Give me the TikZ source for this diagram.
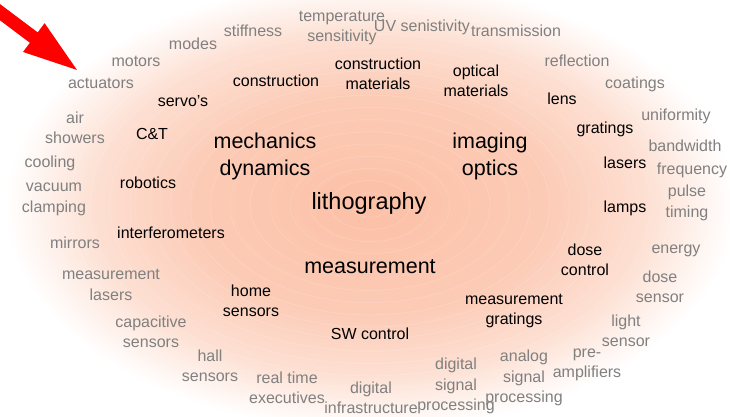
\documentclass[tikz,border=0pt]{standalone}
\usepackage{fontspec}
\setmainfont{Liberation Sans}
\definecolor{salmon}{RGB}{252,192,166}
\definecolor{salmonmid}{RGB}{252,203,182}
\definecolor{salmonout}{RGB}{253,224,211}
\definecolor{greytext}{RGB}{128,128,128}
\definecolor{arrowred}{RGB}{255,0,0}
\pgfdeclareradialshading{glow}{\pgfpoint{0bp}{0bp}}{color(0bp)=(salmon); color(12bp)=(salmonmid); color(19bp)=(salmonout); color(25bp)=(white); color(50bp)=(white)}
\begin{document}
\begin{tikzpicture}[x=1pt,y=-1pt,
  grey/.style={text=greytext,align=center,inner sep=0pt,font=\fontsize{16}{20.5}\selectfont},
  topic/.style={text=black,align=center,inner sep=0pt,font=\fontsize{16}{20.5}\selectfont},
  area/.style={text=black,align=center,inner sep=0pt,font=\fontsize{21.5}{27}\selectfont},
  core/.style={text=black,inner sep=0pt,font=\fontsize{23.5}{28}\selectfont}]
\clip (0,0) rectangle (730,417);
\fill[white] (0,0) rectangle (730,417);
\shade[shading=glow] (370,205) ellipse (365 and 225);
\foreach \k in {1,...,17}{
  \draw[white,opacity=0.2,line width=0.5pt] (370,205) ellipse ({\k*20} and {\k*12.2});
}
% arrow
\fill[arrowred] (-10.1,12.8) -- (29.9,42.8) -- (23,52) -- (77,70) -- (44.6,23.2) -- (37.7,32.4) -- (-2.3,2.4) -- cycle;
% core
\node[core] (litho) at (369,203) {lithography};
% areas
\node[area] (mech) at (265,156) {mechanics\\dynamics};
\node[area] (imag) at (490,156) {imaging\\optics};
\node[area] (meas) at (370,267) {measurement};
% black topics
\node[topic] (servo) at (183,101) {servo's};
\node[topic] (ct) at (152,134) {C\&T};
\node[topic] (constr) at (276,81) {construction};
\node[topic] (constrmat) at (378,74) {construction\\materials};
\node[topic] (optmat) at (476,81) {optical\\materials};
\node[topic] (lens) at (562,99) {lens};
\node[topic] (grat) at (605,129) {gratings};
\node[topic] (lasers) at (625,163) {lasers};
\node[topic] (lamps) at (625,208) {lamps};
\node[topic] (dose) at (585,260) {dose\\control};
\node[topic] (measgrat) at (514,311) {measurement\\gratings};
\node[topic] (sw) at (370,334) {SW control};
\node[topic] (home) at (251,301) {home\\sensors};
\node[topic] (interf) at (171,233) {interferometers};
\node[topic] (robot) at (148,183) {robotics};
% grey items
\node[grey] (temp) at (342,28) {temperature\\sensitivity};
\node[grey] (uv) at (422,27) {UV senistivity};
\node[grey] (trans) at (516,31) {transmission};
\node[grey] (stiff) at (253,31) {stiffness};
\node[grey] (modes) at (193,44) {modes};
\node[grey] (motors) at (136,61) {motors};
\node[grey] (act) at (101,83) {actuators};
\node[grey] (refl) at (577,61) {reflection};
\node[grey] (coat) at (635,84) {coatings};
\node[grey] (unif) at (676,116) {uniformity};
\node[grey] (band) at (685,146) {bandwidth};
\node[grey] (freq) at (692,170) {frequency};
\node[grey] (pulse) at (687,203) {pulse\\timing};
\node[grey] (energy) at (676,251) {energy};
\node[grey] (dosesens) at (660,287) {dose\\sensor};
\node[grey] (light) at (626,331) {light\\sensor};
\node[grey] (pre) at (587,365) {pre-\\amplifiers};
\node[grey] (analog) at (524,378) {analog\\signal\\processing};
\node[grey] (dsp) at (456,386) {digital\\signal\\processing};
\node[grey] (dinfra) at (371,398) {digital\\infrastructure};
\node[grey] (rte) at (287,388) {real time\\executives};
\node[grey] (hall) at (210,366) {hall\\sensors};
\node[grey] (cap) at (151,332) {capacitive\\sensors};
\node[grey] (measlas) at (111,285) {measurement\\lasers};
\node[grey] (mirrors) at (75,243) {mirrors};
\node[grey] (clamp) at (54,208) {clamping};
\node[grey] (vac) at (54,187) {vacuum};
\node[grey] (cool) at (50,163) {cooling};
\node[grey] (air) at (75,128) {air\\showers};
\end{tikzpicture}
\end{document}
